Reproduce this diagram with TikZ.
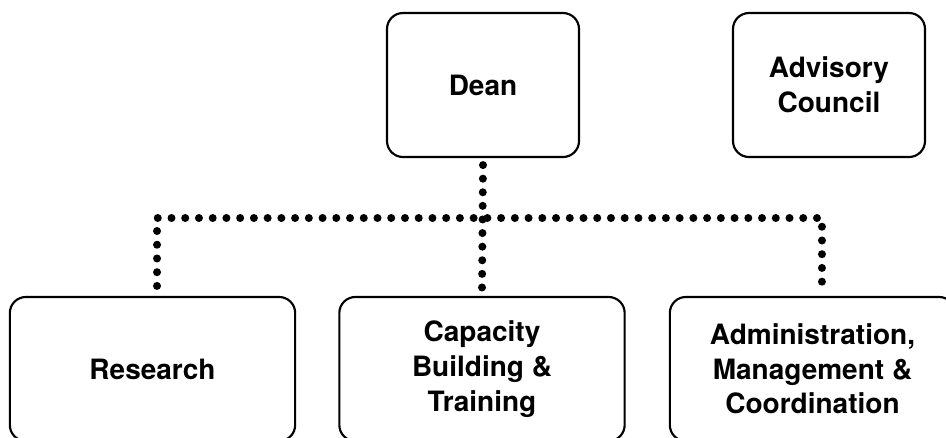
\documentclass[tikz,border=0pt]{standalone}
\usepackage{fontspec}
\setmainfont{TeX Gyre Heros}
\usetikzlibrary{positioning}

\begin{document}
\begin{tikzpicture}[x=0.75pt,y=-0.75pt,
		unitbox/.style={draw,line width=1.6pt,rounded corners=12pt,align=center,inner sep=0pt,
			font=\bfseries\fontsize{21}{26}\selectfont},
		headbox/.style={unitbox,minimum width=144pt,minimum height=108pt},
		deptbox/.style={unitbox,minimum width=214pt,minimum height=108pt},
		dots/.style={line width=6pt,line cap=round,dash pattern=on 0pt off 10.3pt}]
	\useasboundingbox (0,0) rectangle (946,437);
	\clip (0,0) rectangle (946,437);
		% top row
		\node[headbox] (dean) at (483,85) {Dean};
		\node[headbox] (council) at (829,85) {Advisory\\Council};
		% bottom row
		\node[deptbox] (research) at (152.5,369) {Research};
		\node[deptbox] (capacity) at (482,369) {Capacity\\Building \&\\Training};
		\node[deptbox] (admin) at (812.5,369) {Administration,\\Management \&\\Coordination};
		% dotted links
		\coordinate (hub) at (dean.south |- 0,218);
		\draw[dots,dash pattern=on 0pt off 10.2pt] ([yshift=-5.25pt]dean.south) -- ([yshift=4pt]capacity.north);
		\draw[dots] ([xshift=3.4pt,yshift=7.5pt]research.north) |- (hub)
			-| ([xshift=7.1pt,yshift=7.5pt]admin.north);
	\end{tikzpicture}
\end{document}
